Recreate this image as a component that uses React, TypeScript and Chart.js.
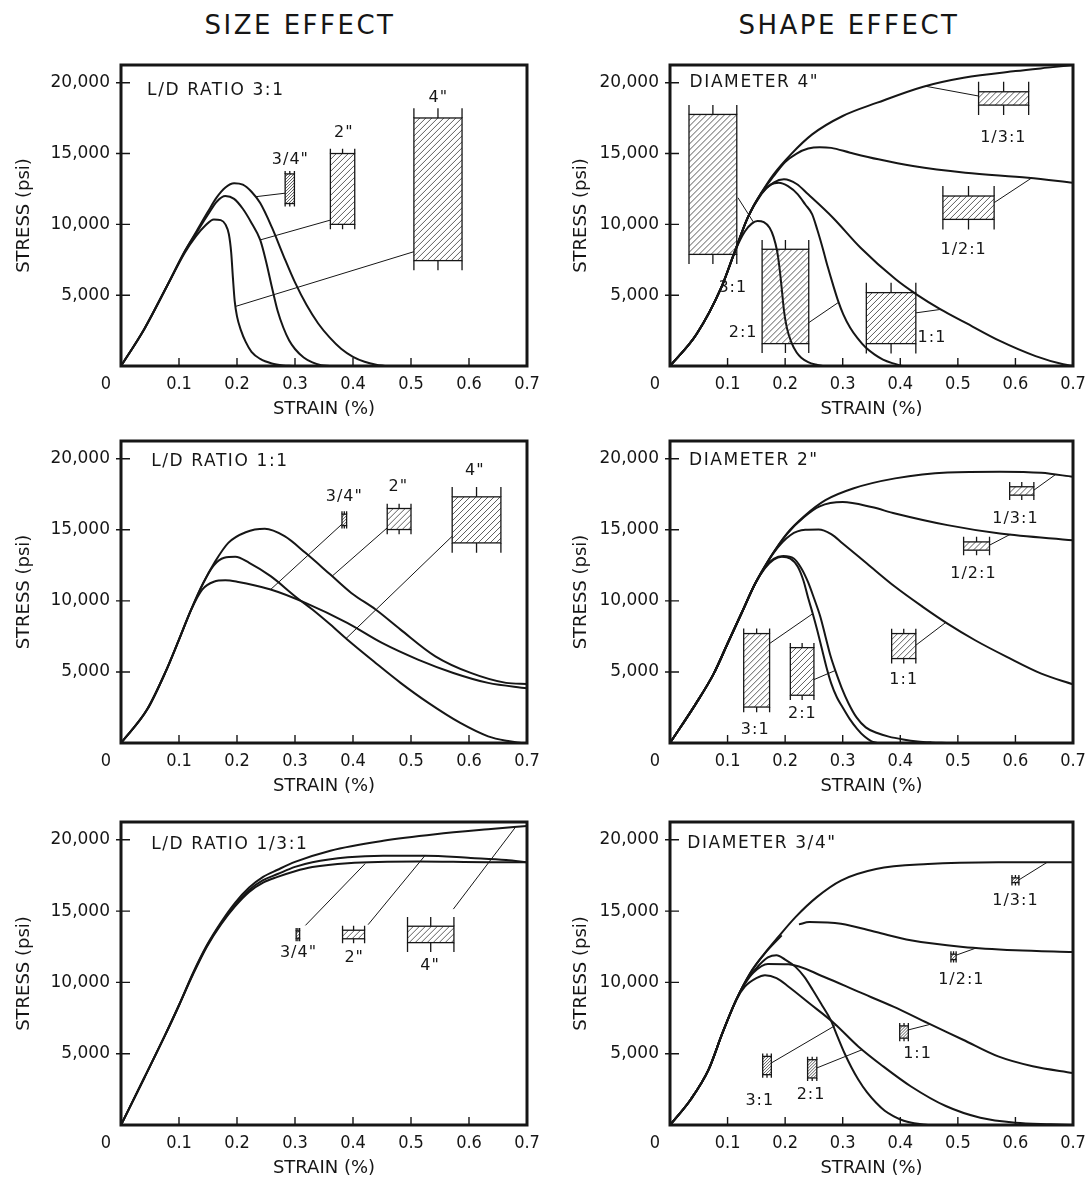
import React, { useEffect, useRef } from "react";
import { Chart, registerables } from "chart.js";

Chart.register(...registerables);

type Pt = [number, number | null];

// ---------- shared text / ticks ----------
const columnTitles = ["SIZE EFFECT", "SHAPE EFFECT"];
const xTickValues = [0, 0.1, 0.2, 0.3, 0.4, 0.5, 0.6, 0.7];
const xTickLabels = ["0", "0.1", "0.2", "0.3", "0.4", "0.5", "0.6", "0.7"];
const yTickValues = [0, 5000, 10000, 15000, 20000];
const yTickLabels = ["0", "5,000", "10,000", "15,000", "20,000"];
const xTitle = "STRAIN (%)";
const yTitle = "STRESS (psi)";

// ---------- Size effect, L/D ratio 3:1 ----------
const ld31_d34: Pt[] = [[0,0],[0.04,2600],[0.08,5700],[0.11,8100],[0.13,9500],[0.15,10900],[0.165,11900],[0.18,12600],[0.195,12900],[0.21,12800],[0.225,12300],[0.24,11500],[0.26,9800],[0.28,7800],[0.3,5900],[0.32,4300],[0.34,3000],[0.36,2000],[0.38,1200],[0.4,650],[0.42,300],[0.44,90],[0.455,0]];
const ld31_d2: Pt[] = [[0,0],[0.04,2600],[0.08,5700],[0.11,8100],[0.13,9400],[0.15,10700],[0.165,11600],[0.18,12000],[0.195,11800],[0.21,11100],[0.225,10100],[0.24,8900],[0.25,7400],[0.26,5600],[0.27,3900],[0.28,2700],[0.29,1800],[0.3,1200],[0.315,600],[0.33,250],[0.345,60],[0.36,0]];
const ld31_d4: Pt[] = [[0,0],[0.04,2600],[0.08,5700],[0.11,8000],[0.13,9200],[0.145,9900],[0.16,10350],[0.172,10300],[0.18,10000],[0.186,9300],[0.19,8000],[0.193,6200],[0.196,4600],[0.2,3500],[0.207,2500],[0.215,1700],[0.225,1000],[0.24,500],[0.26,180],[0.28,40],[0.295,0]];

// ---------- Shape effect, diameter 4" ----------
const sh4_13: Pt[] = [[0,0],[0.046,2240],[0.089,5530],[0.113,8120],[0.135,10470],[0.159,12240],[0.18,13530],[0.21,14940],[0.247,16350],[0.3,17650],[0.36,18590],[0.44,19720],[0.51,20350],[0.6,20820],[0.665,21100],[0.7,21250]];
const sh4_12: Pt[] = [[0,0],[0.046,2240],[0.089,5530],[0.113,8120],[0.135,10470],[0.159,12240],[0.18,13400],[0.2,14400],[0.22,15000],[0.24,15350],[0.26,15450],[0.28,15400],[0.313,15060],[0.362,14590],[0.422,14120],[0.513,13650],[0.622,13290],[0.7,12940]];
const sh4_11: Pt[] = [[0,0],[0.046,2240],[0.089,5530],[0.113,8120],[0.135,10470],[0.159,12200],[0.18,12950],[0.198,13180],[0.22,12850],[0.24,12120],[0.283,10470],[0.331,8350],[0.392,6120],[0.428,5060],[0.47,4000],[0.513,3060],[0.573,1770],[0.635,700],[0.683,120],[0.7,0]];
const sh4_21: Pt[] = [[0,0],[0.046,2240],[0.089,5530],[0.113,8120],[0.135,10470],[0.159,12150],[0.175,12800],[0.189,12940],[0.205,12700],[0.222,12120],[0.235,11400],[0.247,10710],[0.256,9600],[0.265,8350],[0.274,7000],[0.283,5760],[0.292,4600],[0.301,3650],[0.313,2700],[0.325,2000],[0.34,1300],[0.355,820],[0.37,450],[0.386,200],[0.404,0]];
const sh4_31: Pt[] = [[0,0],[0.046,2240],[0.089,5530],[0.113,8120],[0.13,9500],[0.142,10050],[0.152,10240],[0.163,10150],[0.173,9760],[0.18,9100],[0.186,8120],[0.19,7000],[0.194,5500],[0.198,3900],[0.203,2700],[0.21,1760],[0.22,950],[0.228,590],[0.24,280],[0.253,100],[0.265,0]];

// ---------- Size effect, L/D ratio 1:1 ----------
const ld11_d2: Pt[] = [[0,0],[0.045,2350],[0.076,4930],[0.1,7280],[0.121,9390],[0.142,11270],[0.161,12680],[0.185,14080],[0.215,14830],[0.248,15070],[0.282,14550],[0.318,13380],[0.361,11850],[0.397,10560],[0.439,9390],[0.482,7980],[0.542,6100],[0.603,4930],[0.664,4230],[0.7,4150]];
const ld11_d4: Pt[] = [[0,0],[0.045,2350],[0.076,4930],[0.1,7280],[0.121,9390],[0.142,11270],[0.16,12500],[0.178,13030],[0.197,13100],[0.221,12680],[0.258,11740],[0.3,10330],[0.33,9390],[0.361,8330],[0.39,7280],[0.439,5630],[0.482,4230],[0.53,2820],[0.585,1410],[0.633,470],[0.67,120],[0.69,0]];
const ld11_d34: Pt[] = [[0,0],[0.045,2350],[0.076,4930],[0.1,7280],[0.121,9390],[0.14,10800],[0.16,11350],[0.18,11450],[0.2,11350],[0.258,10800],[0.318,9860],[0.39,8450],[0.45,7040],[0.512,5870],[0.573,4930],[0.633,4230],[0.7,3850]];

// ---------- Shape effect, diameter 2" ----------
const sh2_13: Pt[] = [[0,0],[0.045,2770],[0.076,4880],[0.1,7000],[0.124,9110],[0.148,11220],[0.173,12980],[0.203,14740],[0.233,15960],[0.27,17090],[0.318,17910],[0.391,18620],[0.482,19040],[0.573,19090],[0.645,19010],[0.7,18730]];
const sh2_12: Pt[] = [[0,0],[0.045,2770],[0.076,4880],[0.1,7000],[0.124,9110],[0.148,11220],[0.173,12980],[0.203,14700],[0.233,15900],[0.26,16650],[0.3,16950],[0.35,16600],[0.391,16150],[0.482,15330],[0.573,14740],[0.7,14270]];
const sh2_11: Pt[] = [[0,0],[0.045,2770],[0.076,4880],[0.1,7000],[0.124,9110],[0.148,11220],[0.165,12400],[0.179,13330],[0.209,14620],[0.235,15000],[0.258,15020],[0.28,14700],[0.3,14040],[0.342,12630],[0.391,10990],[0.439,9580],[0.482,8400],[0.53,7230],[0.585,6060],[0.645,4880],[0.7,4130]];
const sh2_31: Pt[] = [[0,0],[0.045,2770],[0.076,4880],[0.1,7000],[0.124,9110],[0.148,11220],[0.165,12300],[0.18,12900],[0.194,13100],[0.209,12980],[0.222,12400],[0.232,11400],[0.24,10200],[0.248,9100],[0.256,7900],[0.264,6600],[0.272,5300],[0.28,4200],[0.29,3200],[0.3,2500],[0.312,1700],[0.325,1000],[0.338,450],[0.35,120],[0.36,0]];
const sh2_21: Pt[] = [[0,0],[0.045,2770],[0.076,4880],[0.1,7000],[0.124,9110],[0.148,11220],[0.165,12350],[0.18,12950],[0.197,13150],[0.215,12980],[0.228,12300],[0.24,11300],[0.25,10200],[0.261,8900],[0.27,7500],[0.279,6100],[0.288,5000],[0.298,3900],[0.31,2800],[0.324,1800],[0.34,1100],[0.36,700],[0.38,450],[0.405,250],[0.43,110],[0.455,40],[0.48,0]];

// ---------- Size effect, L/D ratio 1/3:1 ----------
const ld13_d4: Pt[] = [[0,0],[0.04,3300],[0.076,6300],[0.1,8400],[0.124,10650],[0.148,12600],[0.173,14250],[0.197,15600],[0.221,16650],[0.245,17400],[0.27,17900],[0.3,18450],[0.361,19240],[0.452,19930],[0.542,20390],[0.633,20740],[0.7,20970]];
const ld13_d2: Pt[] = [[0,0],[0.04,3300],[0.076,6300],[0.1,8400],[0.124,10600],[0.148,12560],[0.173,14170],[0.197,15440],[0.221,16480],[0.245,17170],[0.27,17600],[0.3,18100],[0.33,18430],[0.391,18780],[0.452,18890],[0.524,18890],[0.603,18730],[0.664,18590],[0.7,18430]];
const ld13_d34: Pt[] = [[0,0],[0.04,3300],[0.076,6300],[0.1,8400],[0.124,10550],[0.148,12500],[0.173,14100],[0.197,15350],[0.221,16350],[0.245,17000],[0.27,17400],[0.3,17800],[0.33,18090],[0.391,18360],[0.512,18480],[0.633,18430],[0.7,18430]];

// ---------- Shape effect, diameter 3/4" ----------
const sh34_13: Pt[] = [[0,0],[0.036,1790],[0.067,3880],[0.091,6440],[0.115,8770],[0.139,10630],[0.164,12020],[0.188,13190],[0.218,14580],[0.255,15980],[0.297,17140],[0.358,17950],[0.448,18300],[0.57,18420],[0.7,18420]];
const sh34_12: Pt[] = [[0,0],[0.036,1790],[0.067,3880],[0.091,6440],[0.115,8770],[0.139,10630],[0.164,12000],[0.194,13300],[0.21,null],[0.224,14070],[0.242,14230],[0.297,14120],[0.358,13530],[0.418,12950],[0.509,12490],[0.6,12260],[0.7,12140]];
const sh34_11: Pt[] = [[0,0],[0.036,1790],[0.067,3880],[0.091,6440],[0.115,8770],[0.13,9900],[0.145,10700],[0.17,11300],[0.206,11280],[0.267,10400],[0.327,9350],[0.388,8300],[0.448,7140],[0.509,5980],[0.57,4810],[0.63,4120],[0.7,3650]];
const sh34_31: Pt[] = [[0,0],[0.036,1790],[0.067,3880],[0.091,6440],[0.115,8770],[0.13,9950],[0.15,11000],[0.17,11750],[0.185,11910],[0.2,11600],[0.218,11090],[0.233,10400],[0.248,9470],[0.264,8400],[0.279,7370],[0.291,6200],[0.303,5050],[0.315,4050],[0.327,3190],[0.342,2300],[0.358,1560],[0.373,1000],[0.388,630],[0.406,300],[0.424,120],[0.448,0]];
const sh34_21: Pt[] = [[0,0],[0.036,1790],[0.067,3880],[0.091,6440],[0.115,8770],[0.13,9700],[0.15,10300],[0.165,10500],[0.185,10300],[0.206,9700],[0.242,8540],[0.285,7140],[0.327,5510],[0.37,4120],[0.418,2720],[0.479,1330],[0.539,510],[0.6,160],[0.661,50],[0.7,0]];

// ---------- specimen sketches (strain / stress units) ----------
type Specimen = { label: string; x0: number; x1: number; y0: number; y1: number; lx: number; ly: number; from: [number, number]; to: [number, number] };

const ld31Specimens: Specimen[] = [
  { label: '3/4"', x0: 0.283, x1: 0.299, y0: 11470, y1: 13560, lx: 0.292, ly: 14550, from: [0.283, 12200], to: [0.232, 11950] },
  { label: '2"', x0: 0.361, x1: 0.403, y0: 10000, y1: 15000, lx: 0.384, ly: 16450, from: [0.361, 10300], to: [0.24, 8900] },
  { label: '4"', x0: 0.505, x1: 0.588, y0: 7440, y1: 17510, lx: 0.547, ly: 18950, from: [0.505, 8070], to: [0.197, 4200] },
];
const sh4Specimens: Specimen[] = [
  { label: "3:1", x0: 0.033, x1: 0.116, y0: 7880, y1: 17760, lx: 0.109, ly: 5530, from: [0.118, 11880], to: [0.145, 10150] },
  { label: "2:1", x0: 0.16, x1: 0.241, y0: 1580, y1: 8240, lx: 0.127, ly: 2350, from: [0.241, 3060], to: [0.293, 4500] },
  { label: "1:1", x0: 0.341, x1: 0.427, y0: 1580, y1: 5180, lx: 0.455, ly: 1990, from: [0.427, 3750], to: [0.471, 4000] },
  { label: "1/2:1", x0: 0.474, x1: 0.563, y0: 10350, y1: 12000, lx: 0.51, ly: 8230, from: [0.563, 11530], to: [0.628, 13270] },
  { label: "1/3:1", x0: 0.536, x1: 0.623, y0: 18420, y1: 19360, lx: 0.579, ly: 16130, from: [0.536, 19060], to: [0.444, 19750] },
];
const ld11Specimens: Specimen[] = [
  { label: '3/4"', x0: 0.381, x1: 0.389, y0: 15300, y1: 16100, lx: 0.385, ly: 17300, from: [0.381, 15400], to: [0.258, 10800] },
  { label: '2"', x0: 0.459, x1: 0.5, y0: 15020, y1: 16500, lx: 0.478, ly: 18050, from: [0.459, 15140], to: [0.364, 11740] },
  { label: '4"', x0: 0.571, x1: 0.655, y0: 14080, y1: 17320, lx: 0.61, ly: 19150, from: [0.571, 14550], to: [0.388, 7350] },
];
const sh2Specimens: Specimen[] = [
  { label: "3:1", x0: 0.128, x1: 0.173, y0: 2530, y1: 7700, lx: 0.148, ly: 900, from: [0.173, 7000], to: [0.248, 9100] },
  { label: "2:1", x0: 0.209, x1: 0.25, y0: 3360, y1: 6710, lx: 0.23, ly: 2070, from: [0.25, 4460], to: [0.287, 5100] },
  { label: "1:1", x0: 0.385, x1: 0.427, y0: 5940, y1: 7700, lx: 0.406, ly: 4420, from: [0.427, 6880], to: [0.479, 8480] },
  { label: "1/2:1", x0: 0.51, x1: 0.555, y0: 13570, y1: 14150, lx: 0.527, ly: 11920, from: [0.555, 13920], to: [0.591, 14680] },
  { label: "1/3:1", x0: 0.59, x1: 0.632, y0: 17440, y1: 18030, lx: 0.6, ly: 15800, from: [0.632, 17790], to: [0.67, 18900] },
];
const ld13Specimens: Specimen[] = [
  { label: '3/4"', x0: 0.302, x1: 0.308, y0: 13100, y1: 13600, lx: 0.306, ly: 12050, from: [0.318, 14000], to: [0.421, 18330] },
  { label: '2"', x0: 0.382, x1: 0.42, y0: 13060, y1: 13660, lx: 0.402, ly: 11700, from: [0.426, 14050], to: [0.524, 18890] },
  { label: '4"', x0: 0.494, x1: 0.574, y0: 12790, y1: 13940, lx: 0.533, ly: 11150, from: [0.573, 15140], to: [0.68, 20880] },
];
const sh34Specimens: Specimen[] = [
  { label: "3:1", x0: 0.161, x1: 0.176, y0: 3530, y1: 4810, lx: 0.156, ly: 1670, from: [0.176, 4350], to: [0.288, 7000] },
  { label: "2:1", x0: 0.239, x1: 0.255, y0: 3300, y1: 4580, lx: 0.245, ly: 2140, from: [0.255, 4000], to: [0.335, 5300] },
  { label: "1:1", x0: 0.399, x1: 0.414, y0: 6090, y1: 6950, lx: 0.43, ly: 5000, from: [0.414, 6670], to: [0.452, 7060] },
  { label: "1/2:1", x0: 0.488, x1: 0.497, y0: 11600, y1: 11980, lx: 0.506, ly: 10160, from: [0.497, 11910], to: [0.533, 12430] },
  { label: "1/3:1", x0: 0.594, x1: 0.606, y0: 17000, y1: 17330, lx: 0.6, ly: 15740, from: [0.606, 17190], to: [0.655, 18420] },
];

type PanelDef = { name: string; nameAt: [number, number]; series: Pt[][]; specimens: Specimen[]; col: number; row: number };

const panels: PanelDef[] = [
  { name: "L/D RATIO 3:1", nameAt: [0.045, 19450], series: [ld31_d34, ld31_d2, ld31_d4], specimens: ld31Specimens, col: 0, row: 0 },
  { name: 'DIAMETER 4"', nameAt: [0.034, 20000], series: [sh4_13, sh4_12, sh4_11, sh4_21, sh4_31], specimens: sh4Specimens, col: 1, row: 0 },
  { name: "L/D RATIO 1:1", nameAt: [0.052, 19800], series: [ld11_d2, ld11_d4, ld11_d34], specimens: ld11Specimens, col: 0, row: 1 },
  { name: 'DIAMETER 2"', nameAt: [0.033, 19880], series: [sh2_13, sh2_12, sh2_11, sh2_31, sh2_21], specimens: sh2Specimens, col: 1, row: 1 },
  { name: "L/D RATIO 1/3:1", nameAt: [0.052, 19700], series: [ld13_d4, ld13_d2, ld13_d34], specimens: ld13Specimens, col: 0, row: 2 },
  { name: 'DIAMETER 3/4"', nameAt: [0.03, 19720], series: [sh34_13, sh34_12, sh34_11, sh34_31, sh34_21], specimens: sh34Specimens, col: 1, row: 2 },
];

// ---------- layout ----------
const FONT = '"DejaVu Sans", "Liberation Sans", sans-serif';
const NARROW = '"Liberation Sans Narrow", "DejaVu Sans Condensed", "Liberation Sans", sans-serif';
const INK = "#161616";
const COLS = [
  { left: 121, right: 527, titleX: 24, titleCX: 300 },
  { left: 670, right: 1073, titleX: 581, titleCX: 849 },
];
const ROWS = [
  { top: 65, bottom: 366 },
  { top: 441, bottom: 743 },
  { top: 822, bottom: 1125 },
];
const YW = 112;
const PAD_T = 10;
const PAD_R = 14;
const XH = 56;
const Y_MAX = 21250;

function drawSpecimen(ctx: CanvasRenderingContext2D, xs: any, ys: any, sp: Specimen) {
  const L = xs.getPixelForValue(sp.x0);
  const R = xs.getPixelForValue(sp.x1);
  const T = ys.getPixelForValue(sp.y1);
  const B = ys.getPixelForValue(sp.y0);
  const w = R - L;
  const h = B - T;
  ctx.strokeStyle = INK;
  ctx.lineWidth = 1;
  ctx.beginPath();
  ctx.moveTo(xs.getPixelForValue(sp.from[0]), ys.getPixelForValue(sp.from[1]));
  ctx.lineTo(xs.getPixelForValue(sp.to[0]), ys.getPixelForValue(sp.to[1]));
  ctx.stroke();

  ctx.save();
  ctx.beginPath();
  ctx.rect(L, T, w, h);
  ctx.clip();
  ctx.lineWidth = 0.8;
  ctx.strokeStyle = "#333";
  const step = w < 12 ? 3 : 6;
  for (let k = L - h; k < R + step; k += step) {
    ctx.beginPath();
    ctx.moveTo(k, B);
    ctx.lineTo(k + h, T);
    ctx.stroke();
  }
  ctx.restore();

  ctx.strokeStyle = INK;
  ctx.lineWidth = 1.3;
  ctx.strokeRect(L, T, w, h);
  const ext = Math.max(3, Math.min(10, w * 0.2));
  ctx.beginPath();
  for (const x of [L, (L + R) / 2, R]) {
    ctx.moveTo(x, T - ext);
    ctx.lineTo(x, T);
    ctx.moveTo(x, B);
    ctx.lineTo(x, B + ext);
  }
  ctx.stroke();

  ctx.fillStyle = INK;
  ctx.font = `16px ${FONT}`;
  (ctx as any).letterSpacing = "1px";
  ctx.textAlign = "center";
  ctx.textBaseline = "middle";
  ctx.fillText(sp.label, xs.getPixelForValue(sp.lx), ys.getPixelForValue(sp.ly));
  (ctx as any).letterSpacing = "0px";
}

function decorPlugin(def: PanelDef) {
  return {
    id: "decor",
    afterDatasetsDraw(chart: any) {
      const { ctx, chartArea: a, scales } = chart;
      const xs = scales.x;
      const ys = scales.y;
      ctx.save();
      for (const sp of def.specimens) drawSpecimen(ctx, xs, ys, sp);

      ctx.strokeStyle = INK;
      ctx.lineWidth = 3;
      ctx.strokeRect(a.left, a.top, a.right - a.left, a.bottom - a.top);

      ctx.lineWidth = 1.4;
      ctx.beginPath();
      xs.ticks.forEach((t: any) => {
        if (t.value <= 1e-9 || t.value >= 0.7 - 1e-9) return;
        const px = xs.getPixelForValue(t.value);
        ctx.moveTo(px, a.bottom);
        ctx.lineTo(px, a.bottom - 8);
      });
      ys.ticks.forEach((t: any) => {
        if (t.value <= 0) return;
        const py = ys.getPixelForValue(t.value);
        ctx.moveTo(a.left - 5, py);
        ctx.lineTo(a.left + 9, py);
      });
      ctx.stroke();

      ctx.fillStyle = INK;
      ctx.font = `17px ${FONT}`;
      ctx.letterSpacing = "1.6px";
      ctx.textAlign = "left";
      ctx.textBaseline = "middle";
      ctx.fillText(def.name, xs.getPixelForValue(def.nameAt[0]), ys.getPixelForValue(def.nameAt[1]));
      ctx.letterSpacing = "0px";

      ctx.font = `18px ${NARROW}`;
      ctx.textAlign = "center";
      ctx.fillText(xTickLabels[0], a.left - 15, a.bottom + 18);
      ctx.restore();
    },
  };
}

function Panel({ def }: { def: PanelDef }) {
  const ref = useRef<HTMLCanvasElement>(null);
  const col = COLS[def.col];
  const row = ROWS[def.row];
  const left = col.left - YW;
  const top = row.top - PAD_T;
  const width = YW + (col.right - col.left) + PAD_R;
  const height = PAD_T + (row.bottom - row.top) + XH;

  useEffect(() => {
    if (!ref.current) return;
    const chart = new Chart(ref.current, {
      type: "line",
      data: {
        datasets: def.series.map((s) => ({
          data: s.map(([x, y]) => ({ x, y })),
          borderColor: INK,
          borderWidth: 2,
          pointRadius: 0,
          fill: false,
          spanGaps: false,
          cubicInterpolationMode: "monotone",
        })),
      },
      options: {
        responsive: false,
        animation: false,
        events: [],
        layout: { padding: { top: PAD_T, right: PAD_R, left: 0, bottom: 0 } },
        plugins: { legend: { display: false }, tooltip: { enabled: false } },
        scales: {
          x: {
            type: "linear",
            min: 0,
            max: 0.7,
            afterBuildTicks: (s: any) => {
              s.ticks = xTickValues.map((v) => ({ value: v }));
            },
            afterFit: (s: any) => {
              s.height = XH;
              s.paddingLeft = 0;
              s.paddingRight = 0;
            },
            grid: { display: false, drawTicks: false },
            border: { display: false },
            ticks: {
              autoSkip: false,
              maxRotation: 0,
              minRotation: 0,
              padding: 8,
              color: INK,
              font: { family: NARROW, size: 18 },
              callback: (_v: any, i: number) => (i === 0 ? "" : xTickLabels[i] ?? ""),
            },
            title: { display: true, text: xTitle, color: INK, font: { family: FONT, size: 18 }, padding: { top: 0, bottom: 2 } },
          },
          y: {
            type: "linear",
            min: 0,
            max: Y_MAX,
            afterBuildTicks: (s: any) => {
              s.ticks = yTickValues.map((v) => ({ value: v }));
            },
            afterFit: (s: any) => {
              s.width = YW;
              s.paddingTop = 0;
              s.paddingBottom = 0;
            },
            grid: { display: false, drawTicks: false },
            border: { display: false },
            ticks: {
              autoSkip: false,
              padding: 11,
              color: INK,
              font: { family: FONT, size: 17 },
              callback: (_v: any, i: number) => (i === 0 ? "" : yTickLabels[i] ?? ""),
            },
            title: {
              display: true,
              text: yTitle,
              color: INK,
              font: { family: FONT, size: 18 },
              padding: { top: col.titleX - left - 10.8, bottom: 0 },
            },
          },
        },
      } as any,
      plugins: [decorPlugin(def)],
    });
    return () => chart.destroy();
  }, []);

  return (
    <canvas
      ref={ref}
      width={width}
      height={height}
      style={{ position: "absolute", left, top, width, height }}
    />
  );
}

export default function App() {
  return (
    <div style={{ position: "absolute", left: 0, top: 0, width: 1089, height: 1188, background: "#fff", overflow: "hidden" }}>
      {columnTitles.map((t, i) => (
        <div
          key={t}
          style={{
            position: "absolute",
            left: COLS[i].titleCX - 200,
            top: 10,
            width: 400,
            textAlign: "center",
            fontFamily: FONT,
            fontSize: 26,
            letterSpacing: "2.5px",
            lineHeight: "30px",
            color: INK,
          }}
        >
          {t}
        </div>
      ))}
      {panels.map((p, i) => (
        <Panel key={i} def={p} />
      ))}
    </div>
  );
}
